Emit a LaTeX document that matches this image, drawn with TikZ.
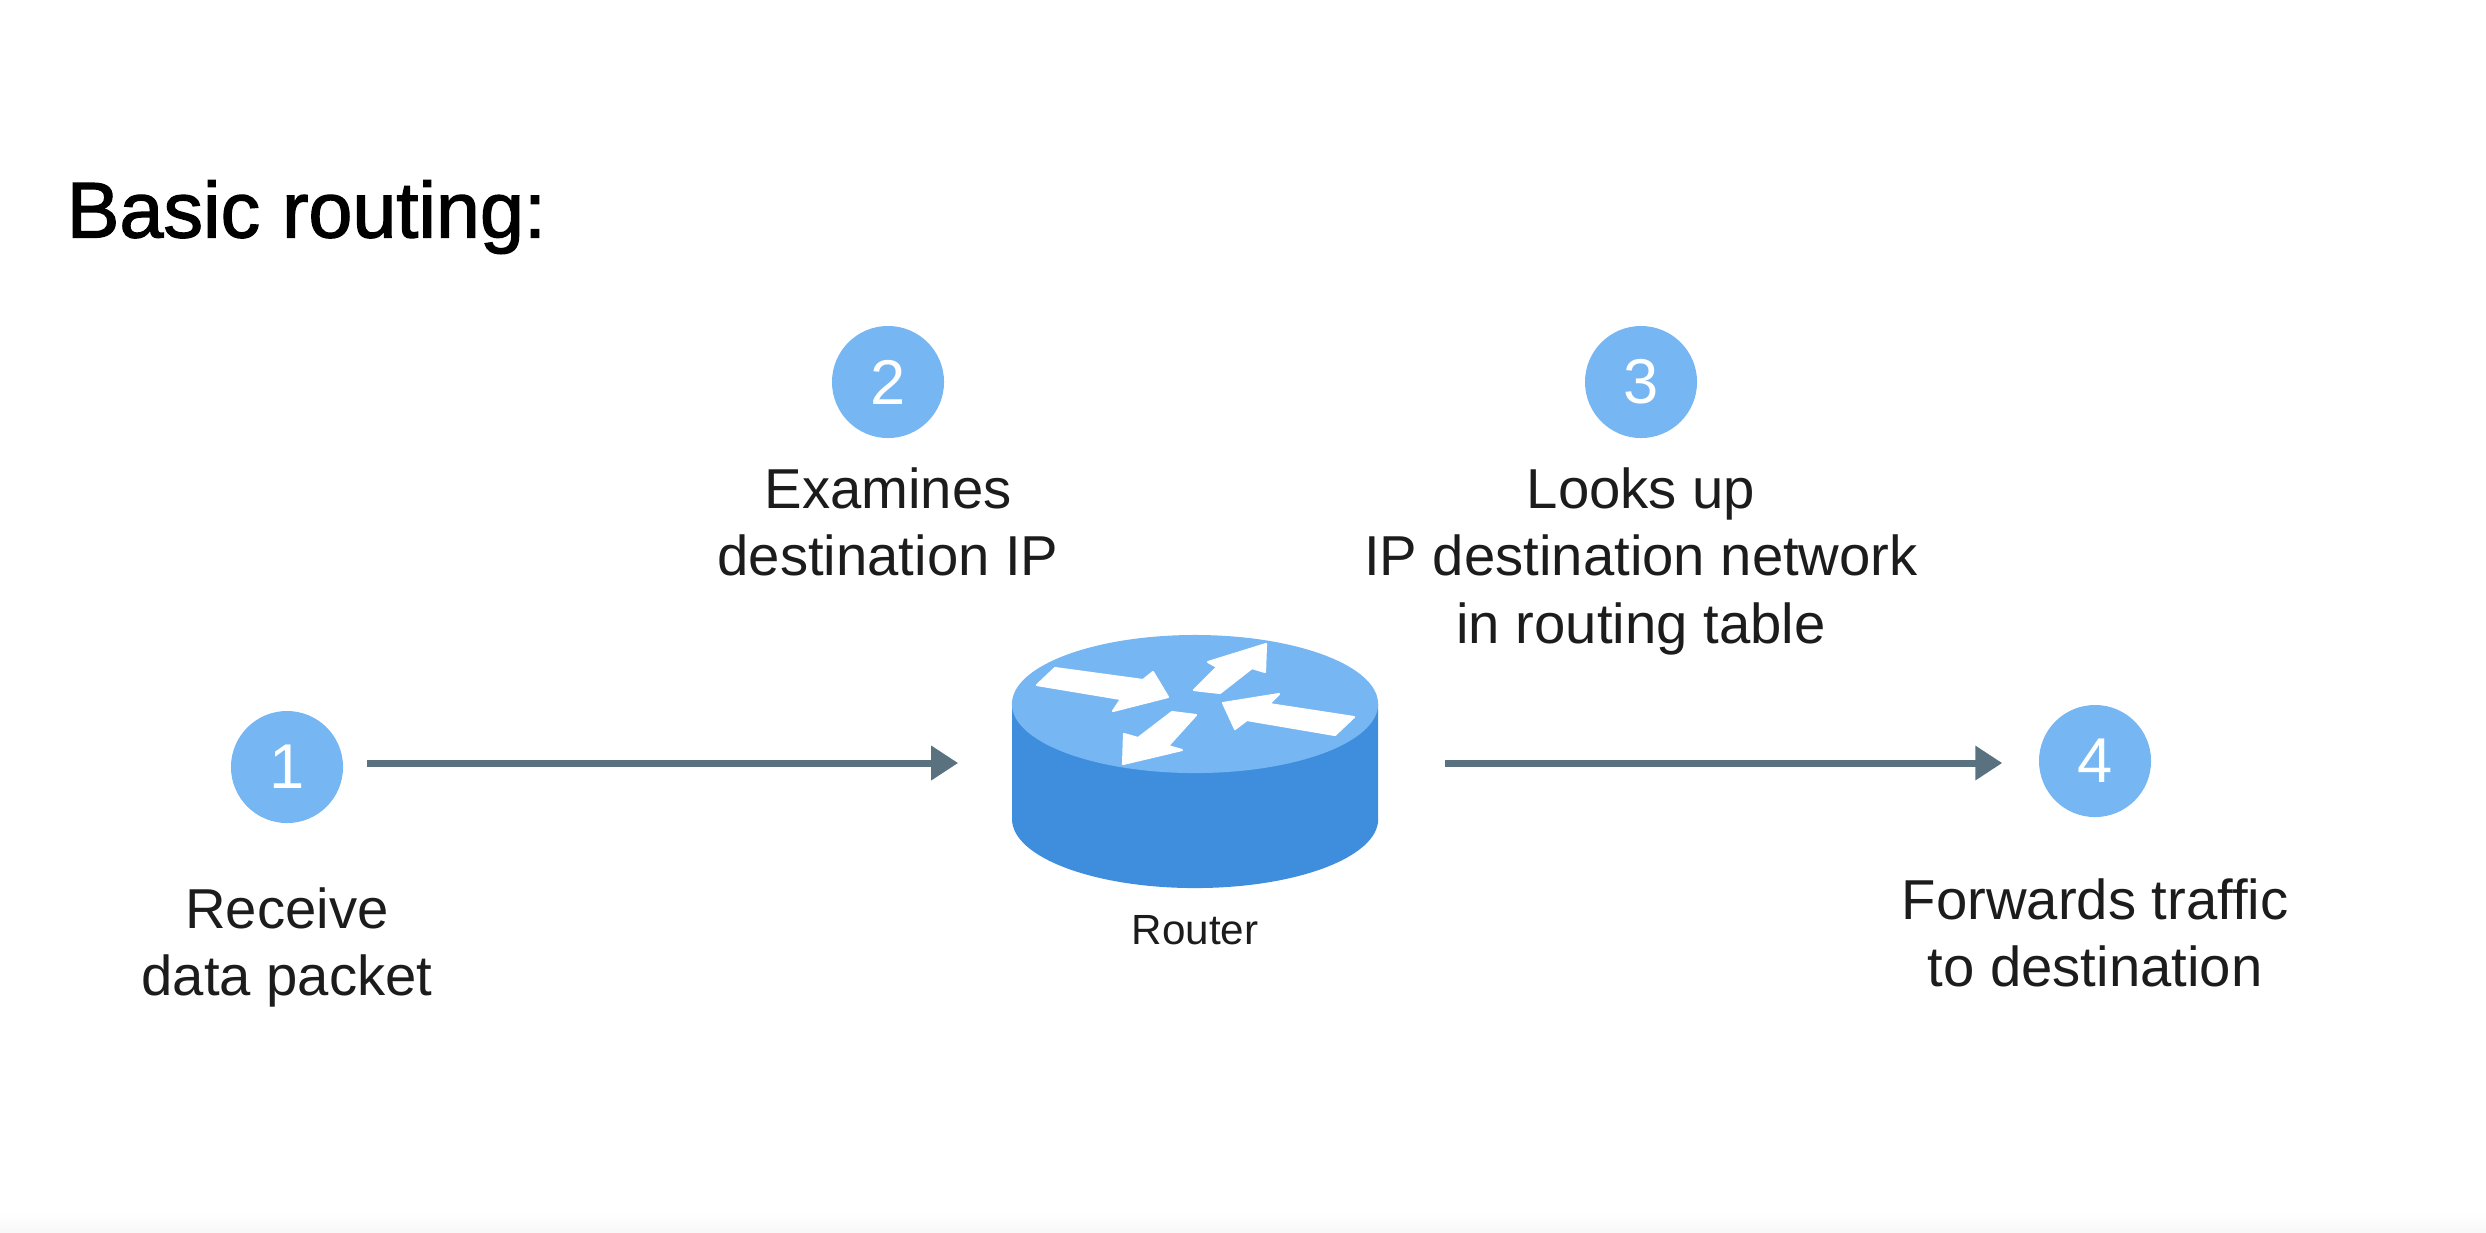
\documentclass[tikz,border=0pt]{standalone}
\usepackage{fontspec}
\setmainfont{Liberation Sans}
\newfontface\titlefont[FakeBold=1.6]{Liberation Sans}
\usepackage{xcolor}
\usetikzlibrary{shapes.geometric, arrows.meta, positioning}
\definecolor{circleblue}{HTML}{76B6F2}
\definecolor{sideblue}{HTML}{3F8EDE}
\definecolor{lineslate}{HTML}{5A7280}
\definecolor{inkdark}{HTML}{1C1C1C}
\definecolor{stripgrey}{HTML}{F8F8F8}

\begin{document}
\begin{tikzpicture}[x=0.01cm, y=-0.01cm]
\tikzstyle{stepnum} = [circle, fill=circleblue, text=white, minimum size=1.12cm, inner sep=0pt, font=\fontsize{18}{18}\selectfont]
\tikzstyle{label} = [align=center, inner sep=0pt, text=inkdark, font=\fontsize{16}{19.2}\selectfont]
\tikzstyle{line} = [draw=lineslate, line width=2pt, -{Triangle[length=0.27cm, width=0.33cm]}]
\tikzstyle{lidarrow} = [fill=white, draw=white, line width=0.6pt, line join=round]

\useasboundingbox (0,0) rectangle (2486,1232);
\shade [top color=white, bottom color=stripgrey] (0,1212) rectangle (2486,1232);

\node [anchor=west, inner sep=0pt, text=black, font=\fontsize{22.5}{27}\titlefont] (title) at (66,217) {Basic routing:};

\node [stepnum] (step1) at (287,767) {1};
\node [stepnum] (step2) at (888,382) {2};
\node [stepnum] (step3) at (1641,382) {3};
\node [stepnum] (step4) at (2095,761) {4};

\node [label, below=0.63cm of step1] (text1) {Receive\\data packet};
\node [label, below=0.28cm of step2] (text2) {Examines\\destination IP};
\node [label, below=0.28cm of step3] (text3) {Looks up\\IP destination network\\in routing table};
\node [label, below=0.60cm of step4] (text4) {Forwards traffic\\to destination};

% router body
\fill [sideblue] (1012,704) -- (1012,819) arc [start angle=180, end angle=360, x radius=1.83cm, y radius=0.69cm] -- (1378,704) -- cycle;
\node [ellipse, fill=circleblue, minimum width=3.66cm, minimum height=1.38cm, inner sep=0pt] (routertop) at (1195,704) {};
\node [minimum width=3.66cm, minimum height=2.5cm, inner sep=0pt] (router) at (1195,763) {};
\node [below=0.26cm of router, inner sep=0pt, text=inkdark, font=\fontsize{12}{14}\selectfont] (routertext) {Router};

% arrows on the lid
\path [lidarrow] (1037,685) -- (1055,668) -- (1143,680) -- (1153,672) -- (1168,697) -- (1113,711) -- (1121,699) -- cycle;
\path [lidarrow] (1194,690) -- (1217,667) -- (1208,662) -- (1266,644) -- (1265,672) -- (1252,668) -- (1220,693) -- cycle;
\path [lidarrow] (1223,703) -- (1279,694) -- (1269,704) -- (1354,717) -- (1335,735) -- (1247,720) -- (1235,729) -- cycle;
\path [lidarrow] (1172,712) -- (1196,715) -- (1168,746) -- (1182,750) -- (1123,764) -- (1124,734) -- (1138,738) -- cycle;

\draw [line, shorten <=0.23cm, shorten >=0.53cm] (step1.east |- router.west) -- (router.west);
\draw [line, shorten <=0.66cm, shorten >=0.36cm] (router.east) -- (step4.west |- router.east);

\end{tikzpicture}
\end{document}
